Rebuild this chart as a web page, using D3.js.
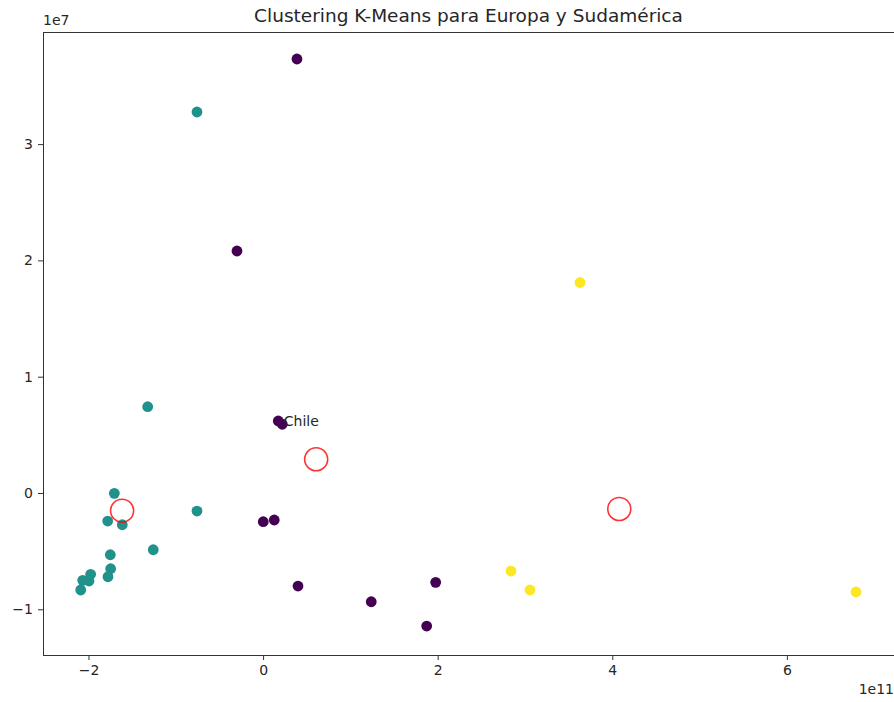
<!DOCTYPE html>
<html>
<head>
<meta charset="utf-8">
<script src="https://cdn.jsdelivr.net/npm/d3@7"></script>
<style>
  html, body { margin: 0; padding: 0; background: #fff; }
  svg { display: block; font-family: "DejaVu Sans", sans-serif; }
</style>
</head>
<body>
<svg id="chart" width="894" height="702"></svg>
<script>
// PIB (x) y población (y) por país, con la etiqueta de cluster de K-Means
const cluster0X = [0.388e11, -0.299e11, 0.174e11, 0.220e11, 0.002e11, 0.128e11, 0.400e11, 1.239e11, 1.977e11, 1.874e11];
const cluster0Y = [3.732e7, 2.081e7, 0.619e7, 0.591e7, -0.247e7, -0.232e7, -0.800e7, -0.935e7, -0.768e7, -1.144e7];

const cluster1X = [-0.757e11, -1.322e11, -1.704e11, -1.780e11, -1.613e11, -0.757e11, -1.750e11, -1.258e11, -1.746e11, -1.777e11, -1.975e11, -2.066e11, -1.994e11, -2.089e11];
const cluster1Y = [3.276e7, 0.742e7, -0.003e7, -0.241e7, -0.273e7, -0.155e7, -0.531e7, -0.488e7, -0.651e7, -0.720e7, -0.699e7, -0.751e7, -0.757e7, -0.834e7];

const cluster2X = [3.630e11, 2.840e11, 3.057e11, 6.792e11];
const cluster2Y = [1.810e7, -0.671e7, -0.834e7, -0.851e7];

// Centroides de los tres clusters
const centroidX = [0.608e11, -1.615e11, 4.080e11];
const centroidY = [0.290e7, -0.152e7, -0.137e7];

// País anotado
const labelName = "Chile";
const labelX = 0.220e11;
const labelY = 0.591e7;

const xTicks = [-2e11, 0, 2e11, 4e11, 6e11];
const yTicks = [-1e7, 0, 1e7, 2e7, 3e7];
const clusterColors = ["#440154", "#21918c", "#fde725"];

const title = "Clustering K-Means para Europa y Sudamérica";

const points = [];
[[cluster0X, cluster0Y], [cluster1X, cluster1Y], [cluster2X, cluster2Y]].forEach(([xs, ys], c) => {
  xs.forEach((x, i) => points.push({ x, y: ys[i], c }));
});

const svg = d3.select("#chart");
const plotLeft = 43, plotRight = 894, plotTop = 32, plotBottom = 655;

const x = d3.scaleLinear().domain([-2.521e11, 7.227e11]).range([plotLeft, plotRight]);
const y = d3.scaleLinear().domain([-1.393e7, 3.964e7]).range([plotBottom, plotTop]);

const fmt = v => d3.format("d")(v).replace("-", "\u2212");

// Axes
const xAxis = d3.axisBottom(x).tickValues(xTicks).tickSize(5).tickPadding(5)
  .tickFormat(d => fmt(d / 1e11));
const yAxis = d3.axisLeft(y).tickValues(yTicks).tickSize(5).tickPadding(5)
  .tickFormat(d => fmt(d / 1e7));

const gx = svg.append("g").attr("transform", `translate(0,${plotBottom})`).call(xAxis);
const gy = svg.append("g").attr("transform", `translate(${plotLeft},0)`).call(yAxis);
[gx, gy].forEach(g => {
  g.select(".domain").remove();
  g.selectAll(".tick line").attr("stroke", "#333").attr("stroke-width", 1);
  g.selectAll(".tick text").attr("fill", "#262626")
    .style("font-size", "14px").style("font-family", "DejaVu Sans, sans-serif");
});

// Frame (left, top, bottom spines)
svg.append("path")
  .attr("d", `M${plotRight + 2},${plotTop}H${plotLeft}V${plotBottom}H${plotRight + 2}`)
  .attr("fill", "none").attr("stroke", "#333").attr("stroke-width", 1)
  .attr("shape-rendering", "crispEdges");

// Country points
const plot = svg.append("g");
plot.selectAll("circle.pt").data(points).join("circle")
  .attr("class", "pt")
  .attr("cx", d => x(d.x)).attr("cy", d => y(d.y))
  .attr("r", 5.4)
  .attr("fill", d => clusterColors[d.c]);

// Centroids
plot.selectAll("circle.centroid").data(centroidX.map((cx, i) => ({ x: cx, y: centroidY[i] })))
  .join("circle")
  .attr("class", "centroid")
  .attr("cx", d => x(d.x)).attr("cy", d => y(d.y))
  .attr("r", 11.5)
  .attr("fill", "none")
  .attr("stroke", "red").attr("stroke-opacity", 0.8).attr("stroke-width", 1.6);

// Annotation
svg.append("text")
  .attr("x", x(labelX) + 1.5).attr("y", y(labelY) + 1.5)
  .attr("fill", "#262626")
  .style("font-size", "14px")
  .text(labelName);

// Title
svg.append("text")
  .attr("x", (plotLeft + plotRight) / 2).attr("y", 22)
  .attr("text-anchor", "middle")
  .attr("fill", "#262626")
  .style("font-size", "18.5px")
  .text(title);

// Offset labels
svg.append("text").attr("x", plotLeft).attr("y", 25)
  .attr("fill", "#262626").style("font-size", "14px").text("1e7");
svg.append("text").attr("x", plotRight).attr("y", 694)
  .attr("text-anchor", "end")
  .attr("fill", "#262626").style("font-size", "14px").text("1e11");
</script>
</body>
</html>
